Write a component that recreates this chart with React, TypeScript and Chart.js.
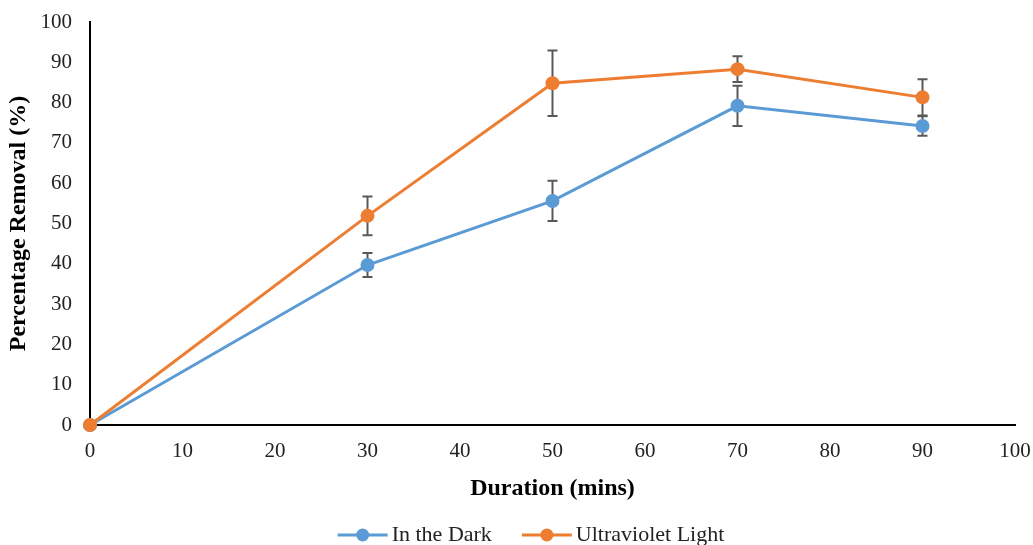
import React, { useEffect, useRef } from "react";
import { Chart, registerables } from "chart.js";

Chart.register(...registerables);

const durations = [0, 30, 50, 70, 90];
const darkValues = [0, 39.7, 55.6, 79.2, 74.2];
const darkErrors = [0, 3.0, 5.0, 5.0, 2.4];
const uvValues = [0, 51.9, 84.8, 88.3, 81.3];
const uvErrors = [0, 4.8, 8.1, 3.2, 4.5];
const seriesLabels = ["In the Dark", "Ultraviolet Light"];
const seriesColors = ["#5B9BD5", "#ED7D31"];
const xTitle = "Duration (mins)";
const yTitle = "Percentage Removal (%)";
const axisMin = 0;
const axisMax = 100;
const axisStep = 10;

const W = 1033;
const H = 545;

const errorBarPlugin = {
  id: "errorBars",
  beforeDatasetsDraw(chart: any) {
    const ctx = chart.ctx;
    const xs = chart.scales.x;
    const ys = chart.scales.y;
    const errs = [darkErrors, uvErrors];
    ctx.save();
    ctx.strokeStyle = "#595959";
    ctx.lineWidth = 2;
    chart.data.datasets.forEach((ds: any, di: number) => {
      ds.data.forEach((p: any, i: number) => {
        const e = errs[di][i];
        if (!e) return;
        const px = xs.getPixelForValue(p.x);
        const top = ys.getPixelForValue(p.y + e);
        const bot = ys.getPixelForValue(p.y - e);
        ctx.beginPath();
        ctx.moveTo(px, top);
        ctx.lineTo(px, bot);
        ctx.moveTo(px - 5, top);
        ctx.lineTo(px + 5, top);
        ctx.moveTo(px - 5, bot);
        ctx.lineTo(px + 5, bot);
        ctx.stroke();
      });
    });
    ctx.restore();
  },
};

const legendPlugin = {
  id: "customLegend",
  afterDraw(chart: any) {
    const ctx = chart.ctx;
    ctx.save();
    ctx.font = "22px 'Liberation Serif'";
    const markerW = 50;
    const gapText = 4;
    const gapItems = 30;
    const widths = seriesLabels.map((l) => ctx.measureText(l).width);
    const total =
      widths.reduce((a, b) => a + b, 0) +
      seriesLabels.length * (markerW + gapText) +
      gapItems * (seriesLabels.length - 1);
    let x = 531 - total / 2;
    const y = 535;
    seriesLabels.forEach((label, i) => {
      ctx.strokeStyle = seriesColors[i];
      ctx.lineWidth = 3;
      ctx.beginPath();
      ctx.moveTo(x, y);
      ctx.lineTo(x + markerW, y);
      ctx.stroke();
      ctx.fillStyle = seriesColors[i];
      ctx.beginPath();
      ctx.arc(x + markerW / 2, y, 6.5, 0, Math.PI * 2);
      ctx.fill();
      x += markerW + gapText;
      ctx.fillStyle = "#222";
      ctx.textBaseline = "middle";
      ctx.textAlign = "left";
      ctx.fillText(label, x, y);
      x += widths[i] + gapItems;
    });
    ctx.restore();
  },
};

export default function App() {
  const ref = useRef<HTMLCanvasElement>(null);
  useEffect(() => {
    document.body.style.margin = "0";
    if (!ref.current) return;
    const mk = (vals: number[], i: number) => ({
      label: seriesLabels[i],
      data: durations.map((d, k) => ({ x: d, y: vals[k] })),
      borderColor: seriesColors[i],
      backgroundColor: seriesColors[i],
      borderWidth: 3,
      pointRadius: 7,
      pointHoverRadius: 7,
      pointBorderWidth: 0,
      tension: 0,
      clip: false,
      order: 1 - i,
    });
    const chart = new Chart(ref.current, {
      type: "line",
      data: { datasets: [mk(darkValues, 0), mk(uvValues, 1)] },
      options: {
        animation: false,
        responsive: false,
        layout: { padding: { top: 22, right: 18, left: 0, bottom: 40 } },
        plugins: { legend: { display: false }, tooltip: { enabled: false } },
        scales: {
          x: {
            type: "linear",
            min: axisMin,
            max: axisMax,
            grid: { display: false, drawTicks: false },
            border: { display: true, color: "#000", width: 2 },
            ticks: {
              stepSize: axisStep,
              padding: 14,
              color: "#222",
              font: { family: "'Liberation Serif'", size: 21 },
              maxRotation: 0,
            },
            title: {
              display: true,
              text: xTitle,
              color: "#000",
              font: { family: "'Liberation Serif'", size: 24, weight: "bold" },
              padding: { top: 0, bottom: 2 },
            },
            afterFit(scale: any) {
              scale.height = 80;
              scale.paddingLeft = 0;
              scale.paddingRight = 0;
            },
          },
          y: {
            type: "linear",
            min: axisMin,
            max: axisMax,
            grid: { display: false, drawTicks: false },
            border: { display: true, color: "#000", width: 2 },
            ticks: {
              stepSize: axisStep,
              padding: 18,
              color: "#222",
              font: { family: "'Liberation Serif'", size: 21 },
            },
            title: {
              display: true,
              text: yTitle,
              color: "#000",
              font: { family: "'Liberation Serif'", size: 24, weight: "bold" },
              padding: { top: 4, bottom: 0 },
            },
            afterFit(scale: any) {
              scale.width = 90;
              scale.paddingTop = 0;
              scale.paddingBottom = 0;
            },
          },
        },
      },
      plugins: [errorBarPlugin, legendPlugin],
    });
    return () => chart.destroy();
  }, []);
  return <canvas ref={ref} width={W} height={H} style={{ display: "block" }} />;
}
